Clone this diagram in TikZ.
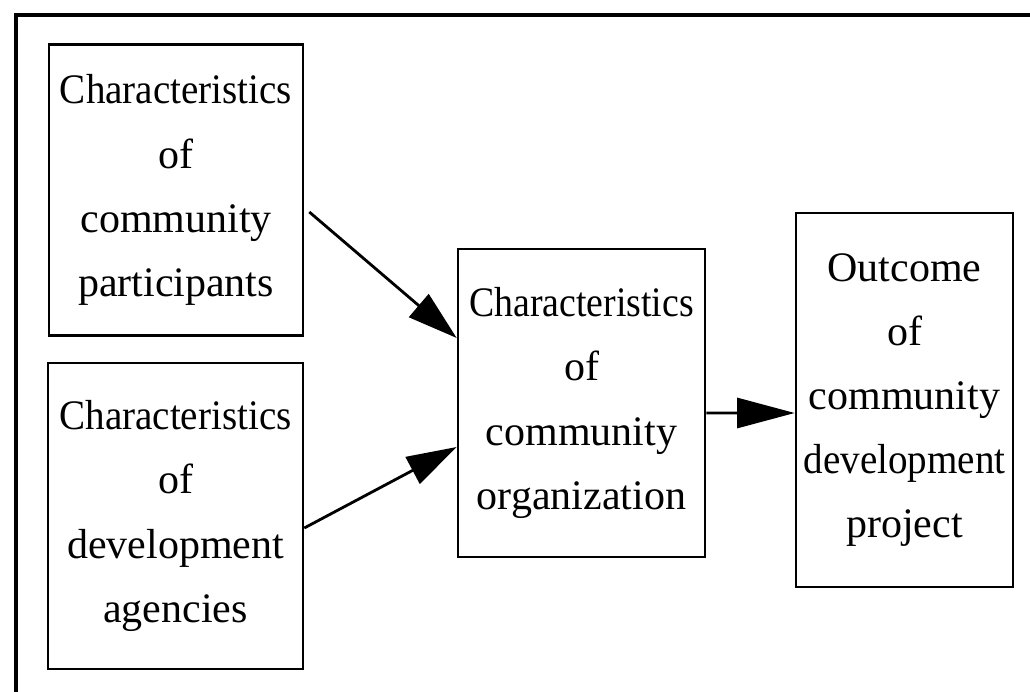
\documentclass[tikz,border=0pt]{standalone}
\usepackage{fontspec}
\setmainfont{Liberation Serif}
\usetikzlibrary{arrows.meta,positioning}
\tikzset{%
	factor/.style = {draw, rectangle, line width=1.5pt, align=center, inner sep=0pt, font=\fontsize{23.9}{36.5}\selectfont},
	arrow/.style  = {line width=1.6pt, -{Triangle[length=1cm,width=0.6cm]}},
}
\newcommand{\squeeze}[1]{\scalebox{0.93}[1]{#1}}

\begin{document}
\begin{tikzpicture}[x=0.02cm,y=-0.02cm]
	\useasboundingbox (0,0) rectangle (1030,692);
	% outer frame
	\draw[line width=2.2pt] (1030,15) -- (16,15) -- (16,692);

	% factors
	\node[factor, minimum width=5.08cm, minimum height=5.82cm] (participants) at (176,190) {\squeeze{Characteristics}\\of\\community\\participants};
	\node[factor, minimum width=5.1cm, minimum height=6.12cm] (agencies) at (175.5,516) {\squeeze{Characteristics}\\of\\development\\agencies};
	\node[factor, minimum width=4.94cm, minimum height=6.16cm] (organization) at (581.5,403) {\scalebox{0.9}[1]{Characteristics}\\of\\community\\organization};
	\node[factor, minimum width=4.34cm, minimum height=7.48cm] (outcome) at (904.5,400) {Outcome\\of\\community\\\squeeze{development}\\project};

	% links
	\draw[arrow] ([xshift=0.1cm,yshift=-0.44cm]participants.east) -- ([yshift=1.3cm]organization.west);
	\draw[arrow] ([yshift=-0.24cm]agencies.east) -- ([yshift=-0.88cm]organization.west);
	\draw[arrow,-{Triangle[length=1.15cm,width=0.6cm]}] ([yshift=-0.2cm]organization.east) -- ([yshift=-0.26cm]outcome.west);
\end{tikzpicture}
\end{document}
